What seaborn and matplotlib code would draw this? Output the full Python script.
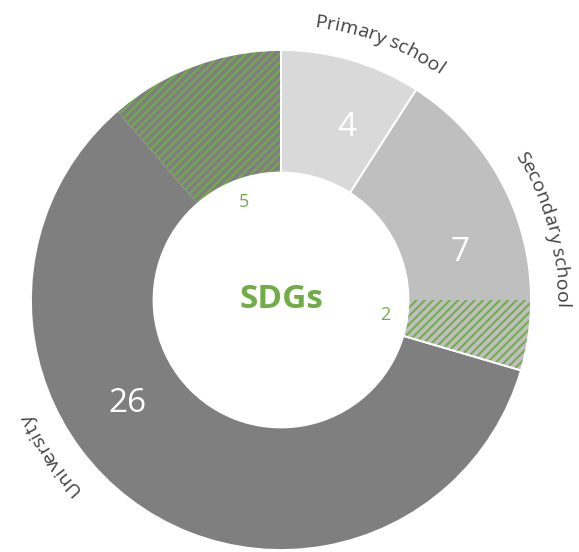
import matplotlib
matplotlib.use("Agg")
import numpy as np
import matplotlib.pyplot as plt
import seaborn as sns
from matplotlib.font_manager import FontProperties

# ---- data -------------------------------------------------------------
categories = ["Primary school", "Secondary school", "University"]
seg_values = [4, 7, 2, 26, 5]          # ring segments, clockwise from 12 o'clock
seg_group = [0, 1, 1, 2, 2]            # which education level each segment belongs to
seg_sdg = [False, False, True, False, True]  # segments that count SDG-related items
center_label = "SDGs"

# ---- style ------------------------------------------------------------
FONT = ["Open Sans", "DejaVu Sans"]
sns.set_theme(style="white")
plt.rcParams["font.family"] = FONT
plt.rcParams["hatch.linewidth"] = 1.4

level_colors = sns.color_palette(["#d9d9d9", "#bfbfbf", "#7f7f7f"])
green = "#70ad47"
label_color = "#404040"

W, H, DPI = 579, 552, 100
fig = plt.figure(figsize=(W / DPI, H / DPI), dpi=DPI)
ax = fig.add_axes([0, 0, 1, 1])

# ring geometry (pixels)
CX, CY, RPX = 281, 300, 250
ring_width = 0.49

seg_colors = [level_colors[g] for g in seg_group]
wedges, _ = ax.pie(seg_values, colors=seg_colors, startangle=90,
                   counterclock=False, radius=1,
                   wedgeprops=dict(width=ring_width, linewidth=0))
for w, sdg in zip(wedges, seg_sdg):
    if sdg:
        w.set_hatch("////")
        w.set_edgecolor(green)
        w.set_linewidth(0)

# white separators between the three education levels
level_totals = [sum(v for v, g in zip(seg_values, seg_group) if g == k)
                for k in range(len(categories))]
ax.pie(level_totals, colors=["none"] * 3, startangle=90, counterclock=False,
       radius=1, wedgeprops=dict(width=ring_width, edgecolor="white",
                                 linewidth=1.3, fill=False))

ax.set_xlim(-CX / RPX, (W - CX) / RPX)
ax.set_ylim(-(H - CY) / RPX, CY / RPX)
ax.set_aspect("equal")
ax.axis("off")


def polar(theta_deg, r):
    t = np.radians(theta_deg)
    return r * np.sin(t), r * np.cos(t)


# cumulative angles (clockwise from top) of each segment
total = sum(seg_values)
bounds = np.concatenate([[0], np.cumsum(seg_values)]) / total * 360.0
mids = (bounds[:-1] + bounds[1:]) / 2

# angular position of each level's name and count
level_angle = [21, 75, 236]

renderer = fig.canvas.get_renderer()


def curved_text(text, theta_c, r, size, color):
    """Write text clockwise along a circle of radius r, letters facing outwards."""
    fp = FontProperties(family=FONT, size=size)

    def width(s):
        return renderer.get_text_width_height_descent(s, fp, ismath=False)[0]

    # ink centre of every glyph, measured from the ink-left edge of a leading "X"
    glyphs = []
    for i, ch in enumerate(text):
        if ch == " ":
            continue
        right = width("X" + text[:i + 1])
        cw = width(ch)
        glyphs.append((ch, right - cw / 2, cw))
    start = glyphs[0][1] - glyphs[0][2] / 2
    end = glyphs[-1][1] + glyphs[-1][2] / 2
    mid = (start + end) / 2
    for ch, c, _ in glyphs:
        th = theta_c + np.degrees((c - mid) / (r * RPX))
        x, y = polar(th, r)
        ax.text(x, y, ch, fontproperties=fp, color=color, rotation=-th,
                rotation_mode="anchor", ha="center", va="baseline")


for name, ang in zip(categories, level_angle):
    curved_text(name, ang, 1.1, 14, label_color)

# counts for each education level (white, on the ring)
for k, ang in enumerate(level_angle):
    idx = [i for i, (g, sdg) in enumerate(zip(seg_group, seg_sdg)) if g == k and not sdg][0]
    x, y = polar(ang, 0.74)
    ax.text(x, y, str(seg_values[idx]), color="white", fontsize=24,
            ha="center", va="center")

# SDG counts (green, just inside the hole)
for i, sdg in enumerate(seg_sdg):
    if sdg:
        x, y = polar(mids[i], 0.42)
        ax.text(x, y, str(seg_values[i]), color=green, fontsize=13,
                ha="center", va="center")

ax.text(0, 0, center_label, color=green, fontsize=24, fontweight="bold",
        ha="center", va="center")

fig.savefig("out.png", dpi=DPI, facecolor="white")
